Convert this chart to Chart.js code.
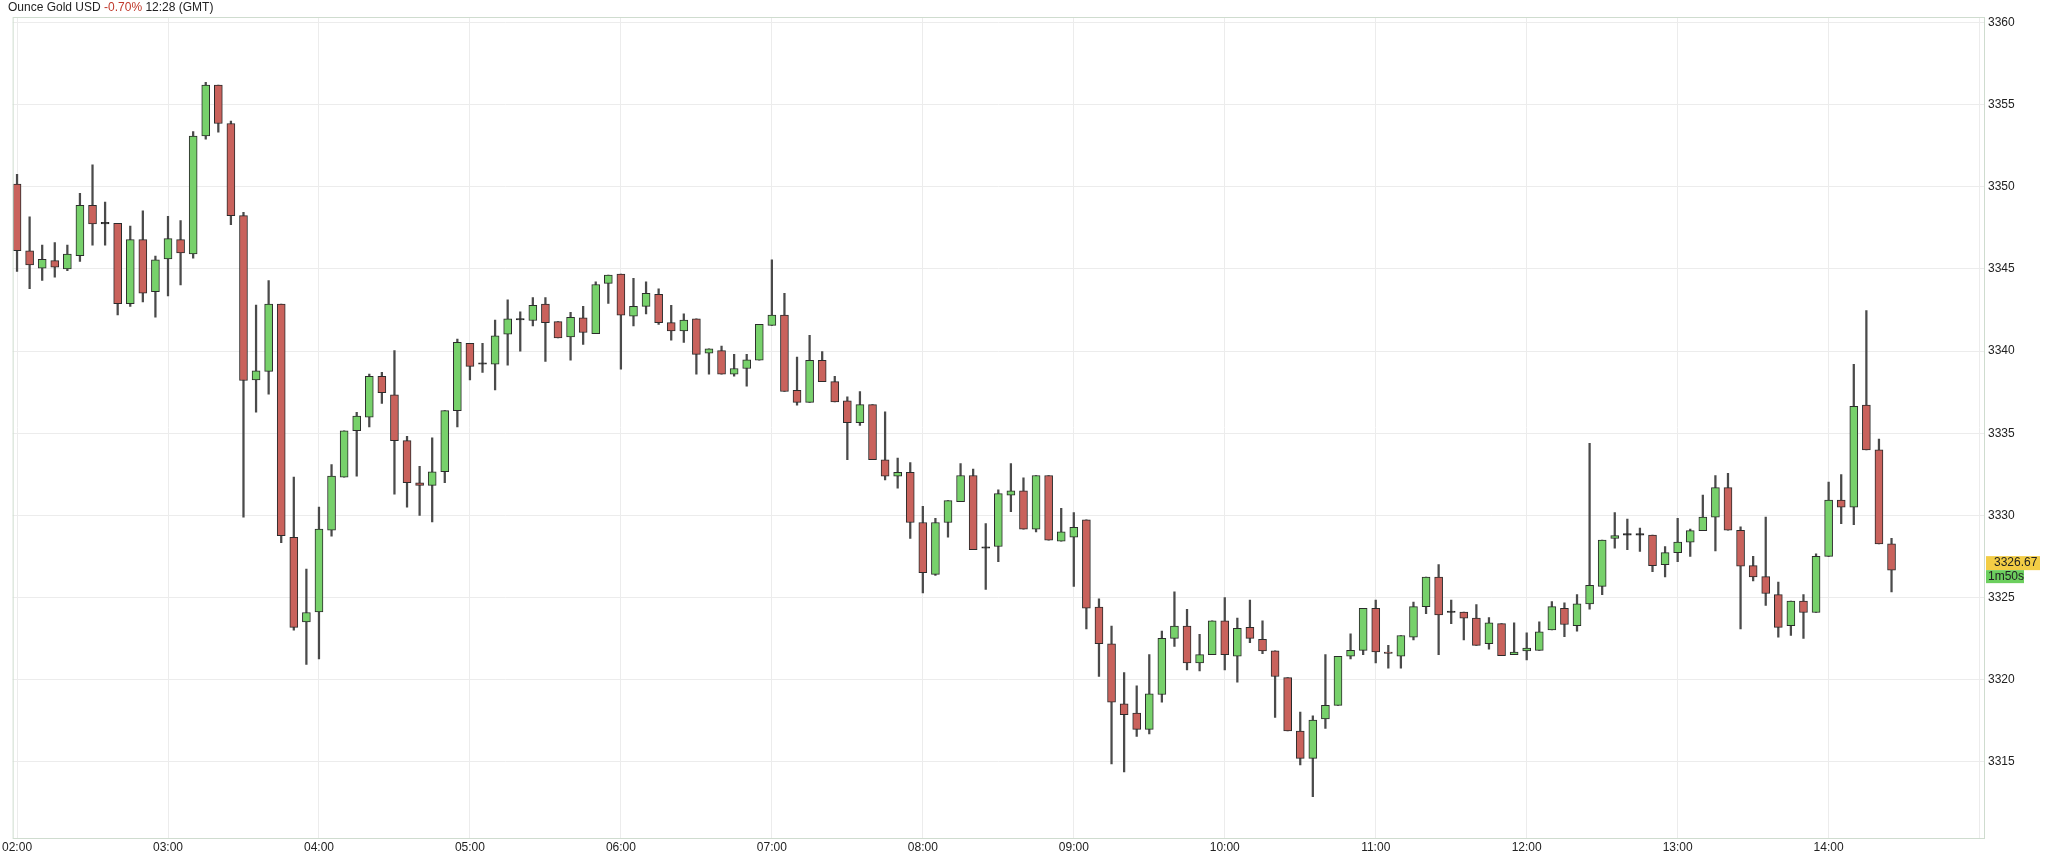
<!DOCTYPE html>
<html><head><meta charset="utf-8">
<script src="https://cdn.jsdelivr.net/npm/chart.js@4.4.1/dist/chart.umd.min.js"></script>
<style>html,body{margin:0;padding:0;background:#fff}#wrap{position:relative;width:2048px;height:852px}#ttl{position:absolute;left:8px;top:0px;font:12px "Liberation Sans",Arial,sans-serif;color:#222}</style>
</head><body><div id="wrap"><div id="ttl">Ounce Gold USD <span style="color:#c0392b">-0.70%</span> 12:28 (GMT)</div><canvas id="c" width="2048" height="852"></canvas></div>
<script>
const startHour = 2;
const hourTicks = ["02:00","03:00","04:00","05:00","06:00","07:00","08:00","09:00","10:00","11:00","12:00","13:00","14:00"];
const opens  = [3350.17,3346.1,3345.05,3345.5,3345.0,3345.8,3348.87,3347.74,3347.77,3342.89,3346.78,3343.62,3345.61,3346.78,3345.91,3353.09,3356.18,3353.85,3348.24,3338.24,3338.77,3342.86,3328.67,3323.52,3324.12,3329.1,3332.33,3335.15,3335.98,3338.47,3337.34,3334.55,3331.99,3331.83,3332.66,3336.38,3340.47,3339.2,3339.2,3341.03,3341.89,3341.86,3342.86,3341.79,3340.86,3342.03,3341.06,3344.12,3344.68,3342.13,3342.72,3343.45,3341.73,3341.23,3341.96,3339.87,3340.03,3338.6,3338.94,3339.44,3341.56,3342.19,3337.61,3336.88,3339.43,3338.14,3336.98,3335.65,3336.74,3333.39,3332.39,3332.62,3329.57,3326.41,3329.57,3330.83,3332.43,3328.0,3328.11,3331.23,3331.5,3329.17,3332.43,3328.44,3328.67,3329.73,3324.42,3322.19,3318.54,3317.97,3316.98,3319.1,3322.52,3323.26,3321.03,3321.53,3323.59,3321.43,3323.19,3322.46,3321.76,3320.13,3316.88,3315.22,3317.61,3318.44,3321.43,3321.79,3324.35,3321.69,3321.43,3322.59,3324.45,3326.25,3324.09,3324.12,3323.75,3322.19,3323.42,3321.53,3321.76,3321.79,3323.03,3324.35,3323.29,3324.62,3325.68,3328.6,3328.8,3328.8,3328.8,3327.01,3327.74,3328.37,3329.07,3329.9,3331.69,3329.1,3326.94,3326.28,3325.18,3323.29,3324.78,3324.09,3327.51,3330.93,3330.5,3336.71,3333.99,3328.27];
const closes = [3346.11,3345.25,3345.58,3345.1,3345.9,3348.87,3347.74,3347.74,3342.89,3346.78,3343.52,3345.55,3346.84,3345.98,3353.09,3356.18,3353.85,3348.24,3338.21,3338.8,3342.86,3328.77,3323.19,3324.09,3329.17,3332.39,3335.15,3336.05,3338.47,3337.47,3334.55,3331.99,3331.83,3332.66,3336.38,3340.53,3339.07,3339.2,3340.93,3341.96,3341.89,3342.79,3341.73,3340.8,3342.06,3341.13,3344.05,3344.62,3342.19,3342.72,3343.52,3341.73,3341.23,3341.89,3339.8,3340.13,3338.6,3338.94,3339.47,3341.63,3342.19,3337.54,3336.88,3339.43,3338.14,3336.91,3335.65,3336.74,3333.39,3332.39,3332.62,3329.57,3326.51,3329.57,3330.9,3332.43,3327.91,3328.0,3331.33,3331.5,3329.17,3332.43,3328.5,3329.0,3329.27,3324.35,3322.19,3318.64,3317.87,3316.98,3319.14,3322.52,3323.26,3321.03,3321.53,3323.59,3321.53,3323.13,3322.52,3321.76,3320.2,3316.88,3315.22,3317.54,3318.44,3321.43,3321.79,3324.35,3321.69,3321.6,3322.69,3324.45,3326.25,3323.95,3324.09,3323.75,3322.09,3323.46,3321.46,3321.69,3321.92,3322.92,3324.45,3323.36,3324.62,3325.75,3328.5,3328.77,3328.8,3328.8,3326.94,3327.74,3328.37,3329.07,3329.9,3331.69,3329.1,3326.91,3326.25,3325.25,3323.19,3324.78,3324.09,3327.51,3330.93,3330.5,3336.64,3333.99,3328.27,3326.67];
const highs  = [3350.76,3348.17,3346.45,3346.6,3346.45,3349.6,3351.33,3349.07,3347.77,3347.6,3348.54,3345.78,3348.2,3347.94,3353.36,3356.35,3356.18,3354.0,3348.44,3342.8,3344.29,3342.86,3332.33,3326.74,3330.5,3333.09,3335.15,3336.28,3338.6,3338.7,3340.03,3334.82,3332.99,3334.72,3336.38,3340.73,3340.47,3340.47,3341.89,3343.12,3342.39,3343.26,3343.26,3341.79,3342.36,3342.72,3344.22,3344.62,3344.68,3344.42,3344.22,3343.79,3342.79,3342.26,3341.96,3340.13,3340.3,3339.8,3339.8,3341.63,3345.55,3343.52,3339.63,3340.96,3339.97,3338.47,3337.21,3337.54,3336.74,3336.31,3333.49,3333.22,3330.56,3329.83,3330.9,3333.16,3332.82,3329.5,3331.56,3333.16,3332.29,3332.43,3332.43,3330.43,3330.17,3329.73,3324.92,3323.26,3320.43,3319.63,3321.53,3322.96,3325.35,3324.29,3322.76,3323.59,3325.0,3323.76,3324.85,3323.59,3321.76,3320.13,3318.04,3317.81,3321.53,3321.43,3322.79,3324.35,3324.85,3322.1,3322.69,3324.72,3326.25,3327.01,3324.85,3324.12,3324.58,3323.79,3323.42,3323.46,3322.86,3323.52,3324.75,3324.68,3325.18,3334.39,3328.5,3330.17,3329.77,3329.23,3328.8,3328.11,3329.83,3329.17,3331.23,3332.43,3332.56,3329.3,3327.51,3329.9,3325.95,3324.78,3325.18,3327.67,3332.03,3332.49,3339.2,3342.46,3334.65,3328.6];
const lows   = [3344.85,3343.8,3344.3,3344.5,3344.9,3345.45,3346.45,3346.45,3342.2,3342.72,3342.99,3342.06,3343.36,3344.02,3345.65,3352.89,3353.32,3347.7,3329.9,3336.28,3337.38,3328.34,3323.02,3320.93,3321.26,3328.74,3332.33,3332.39,3335.38,3336.81,3331.3,3330.5,3330.0,3329.6,3331.99,3335.38,3338.24,3338.7,3337.64,3339.14,3340.0,3341.53,3339.37,3340.8,3339.44,3340.4,3341.06,3342.9,3338.9,3341.53,3342.26,3341.63,3340.66,3340.53,3338.6,3338.6,3338.6,3338.47,3337.87,3339.44,3341.56,3337.54,3336.71,3336.88,3338.14,3336.91,3333.39,3335.48,3333.39,3332.16,3331.66,3328.6,3325.28,3326.35,3328.67,3330.83,3327.91,3325.5,3327.18,3330.23,3329.17,3329.0,3328.5,3328.44,3325.68,3323.09,3320.2,3314.88,3314.39,3316.55,3316.71,3318.64,3322.03,3320.6,3320.53,3321.53,3320.6,3319.86,3322.26,3321.59,3317.71,3316.88,3314.82,3312.89,3317.04,3318.44,3321.26,3321.53,3321.03,3320.7,3320.7,3322.43,3324.02,3321.53,3323.42,3322.43,3322.09,3321.86,3321.46,3321.53,3321.2,3321.79,3323.03,3322.62,3322.96,3324.29,3325.18,3328.0,3327.91,3327.81,3326.58,3326.25,3327.18,3327.51,3329.07,3327.84,3329.1,3323.09,3326.01,3324.52,3322.59,3322.69,3322.52,3324.09,3327.51,3329.5,3329.43,3333.99,3328.27,3325.35];
const lastPrice = "3326.67", countdown = "1m50s";

const idx = opens.map((_, i) => i);
const UP = '#77d16b', DN = '#c9625c', DOJI = '#222';
const bodyColors = idx.map(i => Math.abs(closes[i]-opens[i]) < 0.05 ? DOJI : (closes[i] >= opens[i] ? UP : DN));
const bodyBorders = idx.map(i => Math.abs(closes[i]-opens[i]) < 0.05 ? DOJI : '#2b2b2b');

const extras = {
  id: 'extras',
  afterDraw(chart) {
    const {ctx, chartArea: a, scales: {y}} = chart;
    ctx.save();
    ctx.strokeStyle = '#cfdccf'; ctx.lineWidth = 1;
    ctx.strokeRect(a.left + 0.5, a.top + 0.5, a.right - a.left, a.bottom - a.top);
    const py = y.getPixelForValue(closes[closes.length-1]);
    ctx.fillStyle = '#f3cd45';
    ctx.fillRect(a.right + 2, py - 14, 54, 14);
    ctx.fillStyle = '#6ccf5e';
    ctx.fillRect(a.right + 2, py, 38, 13);
    ctx.fillStyle = '#222'; ctx.font = '12px "Liberation Sans", Arial';
    ctx.textBaseline = 'middle'; ctx.textAlign = 'left';
    ctx.fillText(lastPrice, a.right + 10, py - 7);
    ctx.fillText(countdown, a.right + 4, py + 6.5);
    ctx.restore();
  }
};

new Chart(document.getElementById('c'), {
  type: 'bar',
  data: {
    labels: idx,
    datasets: [
      { data: idx.map(i => ({x: i, y: [lows[i], highs[i]]})), backgroundColor: '#4a4a4a', barThickness: 1.6, grouped: false, order: 2 },
      { data: idx.map(i => ({x: i, y: [opens[i], closes[i]]})), backgroundColor: bodyColors, borderColor: bodyBorders,
        borderWidth: 1, borderSkipped: false, barThickness: 8, minBarLength: 1.5, grouped: false, order: 1 }
    ]
  },
  options: {
    responsive: false, animation: false,
    layout: { padding: { top: 17, left: 9, right: 0, bottom: 0 } },
    plugins: { legend: { display: false }, tooltip: { enabled: false } },
    scales: {
      x: {
        type: 'linear', min: -0.35, max: 156.35, offset: false,
        afterBuildTicks(s) { const t = []; for (let v = 0; v <= 156; v += 12) t.push({value: v}); s.ticks = t; },
        afterFit(s) { s.height = 14; },
        grid: { color: '#ececec', drawTicks: false, offset: false },
        border: { display: false },
        ticks: { padding: 2, maxRotation: 0, autoSkip: false, color: '#222', font: { size: 12, family: '"Liberation Sans", Arial' },
          callback: v => hourTicks[v/12] || '' }
      },
      y: {
        position: 'right', min: 3310.37, max: 3360.33,
        afterBuildTicks(s) { const t = []; for (let v = 3315; v <= 3360; v += 5) t.push({value: v}); s.ticks = t; },
        afterFit(s) { s.width = 64; },
        grid: { color: '#ececec', drawTicks: false },
        border: { display: false },
        ticks: { padding: 4, color: '#222', font: { size: 12, family: '"Liberation Sans", Arial' }, callback: v => String(v) }
      }
    }
  },
  plugins: [extras]
});
</script></body></html>
